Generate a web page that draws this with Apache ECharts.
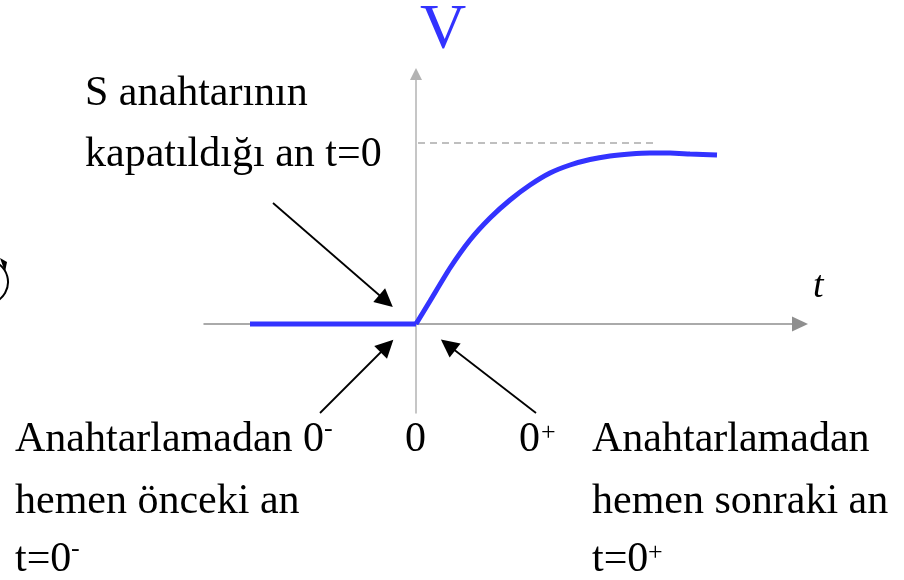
<!DOCTYPE html>
<html>
<head>
<meta charset="utf-8">
<script src="https://cdn.jsdelivr.net/npm/echarts@6/dist/echarts.min.js"></script>
<style>
  html, body { margin: 0; padding: 0; background: #fff; }
  #main { width: 904px; height: 580px; }
</style>
</head>
<body>
<div id="main"></div>
<script>
// t axis range and V axis range (arbitrary units, 0 at switching instant)
const tRange = [-2.12, 3.84];
const vRange = [-0.89, 2.50];

// V before switching (flat at zero)
const beforeT = [-1.66, 0];
const beforeV = [0, 0];

// V after switching (rising to the final value)
const afterT = [0, 0.14, 0.34, 0.54, 0.74, 0.94, 1.14, 1.34, 1.54, 1.74, 1.94, 2.14, 2.34, 2.54, 2.74, 3.01];
const afterV = [0, 0.23, 0.56, 0.84, 1.06, 1.24, 1.39, 1.51, 1.59, 1.645, 1.68, 1.70, 1.71, 1.71, 1.70, 1.69];

// dashed final-value guide
const finalV = 1.81;
const finalSpan = [0.02, 2.42];

// annotation arrows [from, to]
const arrows = [
  [[-1.43, 1.21], [-0.30, 0.23]],
  [[-0.96, -0.89], [-0.29, -0.22]],
  [[1.20, -0.89], [0.32, -0.21]]
];

const blue = '#3333ff';
const serif = '"Liberation Serif", "DejaVu Serif", serif';

let chart = echarts.init(document.getElementById('main'));

function txt(x, y, text, size, color, style) {
  return {
    type: 'text',
    x: x,
    y: y,
    style: {
      text: text,
      font: (style || '') + ' ' + size + 'px ' + serif,
      fill: color || '#000',
      verticalAlign: 'middle'
    }
  };
}

let option = {
  animation: false,
  grid: { left: 204, right: 104, top: 74, bottom: 167 },
  xAxis: {
    type: 'value',
    min: tRange[0],
    max: tRange[1],
    axisLine: {
      onZero: true,
      symbol: ['none', 'triangle'],
      symbolSize: [15, 16],
      lineStyle: { color: '#8f8f8f', width: 1.5 }
    },
    axisTick: { show: false },
    axisLabel: { show: false },
    splitLine: { show: false }
  },
  yAxis: {
    type: 'value',
    min: vRange[0],
    max: vRange[1],
    axisLine: {
      show: true,
      onZero: true,
      symbol: ['none', 'triangle'],
      symbolSize: [12, 12],
      lineStyle: { color: '#b3b3b3', width: 1.5 }
    },
    axisTick: { show: false },
    axisLabel: { show: false },
    splitLine: { show: false }
  },
  series: [
    {
      type: 'line',
      data: beforeT.map((t, i) => [t, beforeV[i]]),
      symbol: 'none',
      lineStyle: { color: blue, width: 5 },
      z: 5
    },
    {
      type: 'line',
      data: afterT.map((t, i) => [t, afterV[i]]),
      symbol: 'none',
      smooth: 0.2,
      lineStyle: { color: blue, width: 5 },
      z: 5,
      markLine: {
        silent: true,
        symbol: ['none', 'none'],
        label: { show: false },
        lineStyle: { color: '#ababab', type: [7, 5], width: 1.5 },
        data: [[{ coord: [finalSpan[0], finalV] }, { coord: [finalSpan[1], finalV] }]]
      }
    },
    {
      type: 'line',
      data: [],
      markLine: {
        silent: true,
        symbol: ['none', 'triangle'],
        symbolSize: 18,
        label: { show: false },
        lineStyle: { color: '#000', type: 'solid', width: 1.8 },
        itemStyle: { color: '#000' },
        data: arrows.map(a => [{ coord: a[0] }, { coord: a[1] }])
      }
    }
  ],
  graphic: [
    txt(420, 31, 'V', 64, blue),
    txt(813, 287, 't', 38, '#000', 'italic'),
    txt(85, 94, 'S anahtarının', 42),
    txt(85, 155, 'kapatıldığı an t=0', 42),
    txt(15, 440, 'Anahtarlamadan', 42),
    txt(15, 502, 'hemen önceki an', 42),
    txt(15, 560, 't=0', 42),
    txt(71, 549, '-', 26),
    txt(303, 440, '0', 42),
    txt(324, 429, '-', 26),
    txt(405, 440, '0', 42),
    txt(519, 440, '0', 42),
    txt(541, 433, '+', 26),
    txt(592, 440, 'Anahtarlamadan', 42),
    txt(592, 502, 'hemen sonraki an', 42),
    txt(592, 560, 't=0', 42),
    txt(648, 553, '+', 26),
    {
      type: 'arc',
      shape: { cx: -14, cy: 282, r: 22, startAngle: -Math.PI / 3, endAngle: Math.PI / 3 },
      style: { stroke: '#000', lineWidth: 2, fill: null }
    },
    {
      type: 'polygon',
      shape: { points: [[0, 258], [7, 262], [5, 272]] },
      style: { fill: '#000' }
    }
  ]
};

chart.setOption(option);
</script>
</body>
</html>
